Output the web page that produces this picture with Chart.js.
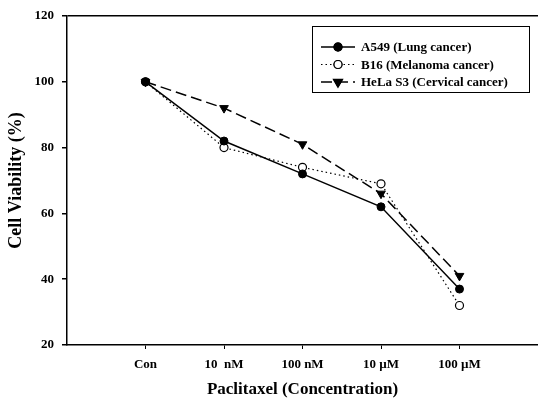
<!DOCTYPE html>
<html lang="en">
<head>
<meta charset="UTF-8" />
<title>Cell Viability</title>
<script src="https://cdn.jsdelivr.net/npm/chart.js@4.4.0/dist/chart.umd.min.js"></script>
<style>
  body { margin: 0; background: #fff; }
</style>
</head>
<body>
<canvas id="chart" width="538" height="402"></canvas>

<script>
// data
const doses = ['Con', '10  nM', '100 nM', '10 \u00B5M', '100 \u00B5M'];
const a549 = [100, 82, 72, 62, 37];
const b16 = [100, 80, 74, 69, 32];
const hela = [100, 92, 81, 66, 41];
const yTicks = [20, 40, 60, 80, 100, 120];

const serif = "'Liberation Serif', 'DejaVu Serif', serif";

function pts(arr) {
  return arr.map((v, i) => ({ x: i + 1, y: v }));
}

// legend drawn inside the plot, top right, with line + marker samples
const boxLegend = {
  id: 'boxLegend',
  afterDraw(chart) {
    const c = chart.ctx;
    const x0 = 312, y0 = 26, w = 217, h = 66;
    c.save();
    c.fillStyle = '#fff';
    c.fillRect(x0, y0, w, h);
    c.strokeStyle = '#000';
    c.lineWidth = 1;
    c.strokeRect(x0 + 0.5, y0 + 0.5, w, h);
    chart.data.datasets.forEach((ds, i) => {
      const y = 47 + i * 17.5;
      c.beginPath();
      c.setLineDash(ds.borderDash || []);
      c.lineWidth = ds.borderWidth;
      c.strokeStyle = '#000';
      c.moveTo(321, y);
      c.lineTo(355, y);
      c.stroke();
      c.setLineDash([]);
      Chart.helpers.drawPoint(c, {
        pointStyle: ds.pointStyle,
        radius: ds.pointRadius,
        rotation: ds.pointRotation || 0,
        borderWidth: ds.pointBorderWidth
      }, 338, y);
      c.fillStyle = ds.pointBackgroundColor;
      c.strokeStyle = '#000';
      c.lineWidth = ds.pointBorderWidth;
      c.fill();
      c.stroke();
      c.fillStyle = '#000';
      c.font = 'bold 13px ' + serif;
      c.textBaseline = 'middle';
      c.fillText(ds.label, 361, y + 1);
    });
    c.restore();
  }
};

new Chart(document.getElementById('chart'), {
  type: 'line',
  data: {
    datasets: [
      {
        label: 'A549 (Lung cancer)',
        data: pts(a549),
        borderColor: '#000',
        borderWidth: 1.5,
        pointStyle: 'circle',
        pointRadius: 4,
        pointBackgroundColor: '#000',
        pointBorderColor: '#000',
        pointBorderWidth: 1
      },
      {
        label: 'B16 (Melanoma cancer)',
        data: pts(b16),
        borderColor: '#000',
        borderWidth: 1.2,
        borderDash: [1.5, 3],
        pointStyle: 'circle',
        pointRadius: 4,
        pointBackgroundColor: '#fff',
        pointBorderColor: '#000',
        pointBorderWidth: 1.2
      },
      {
        label: 'HeLa S3 (Cervical cancer)',
        data: pts(hela),
        borderColor: '#000',
        borderWidth: 1.5,
        borderDash: [11, 5],
        pointStyle: 'triangle',
        pointRotation: 180,
        pointRadius: 5,
        pointBackgroundColor: '#000',
        pointBorderColor: '#000',
        pointBorderWidth: 1
      }
    ]
  },
  options: {
    responsive: false,
    animation: false,
    layout: { autoPadding: false, padding: { top: 16, right: 0, left: 0, bottom: 0 } },
    plugins: {
      legend: { display: false },
      tooltip: { enabled: false }
    },
    scales: {
      x: {
        type: 'linear',
        min: 0,
        max: 6,
        afterBuildTicks(axis) {
          axis.ticks = doses.map((d, i) => ({ value: i + 1 }));
        },
        afterFit(axis) {
          axis.height = 57;
          axis.paddingLeft = 0;
          axis.paddingRight = 0;
        },
        ticks: {
          callback: (v) => doses[v - 1] || '',
          color: '#000',
          font: { family: serif, size: 13, weight: 'bold' },
          padding: 8,
          maxRotation: 0
        },
        grid: {
          drawOnChartArea: false,
          tickLength: 4,
          tickColor: '#000'
        },
        border: { color: '#000', width: 1.5 },
        title: {
          display: true,
          text: 'Paclitaxel (Concentration)',
          color: '#000',
          font: { family: serif, size: 17, weight: 'bold' },
          padding: { top: 0, bottom: 2 }
        }
      },
      y: {
        min: 20,
        max: 120,
        afterBuildTicks(axis) {
          axis.ticks = yTicks.map(v => ({ value: v }));
        },
        afterFit(axis) {
          axis.width = 67;
          axis.paddingTop = 0;
          axis.paddingBottom = 0;
        },
        ticks: {
          color: '#000',
          font: { family: serif, size: 13, weight: 'bold' },
          padding: 8
        },
        grid: {
          color: (ctx) => ctx.tick && ctx.tick.value === 120 ? '#000' : 'rgba(0,0,0,0)',
          lineWidth: 1.5,
          tickLength: 5,
          tickColor: '#000'
        },
        border: { color: '#000', width: 1.5 },
        title: {
          display: true,
          text: 'Cell Viability (%)',
          color: '#000',
          font: { family: serif, size: 18, weight: 'bold' },
          padding: { top: 6, bottom: 0 }
        }
      }
    }
  },
  plugins: [boxLegend]
});
</script>
</body>
</html>
